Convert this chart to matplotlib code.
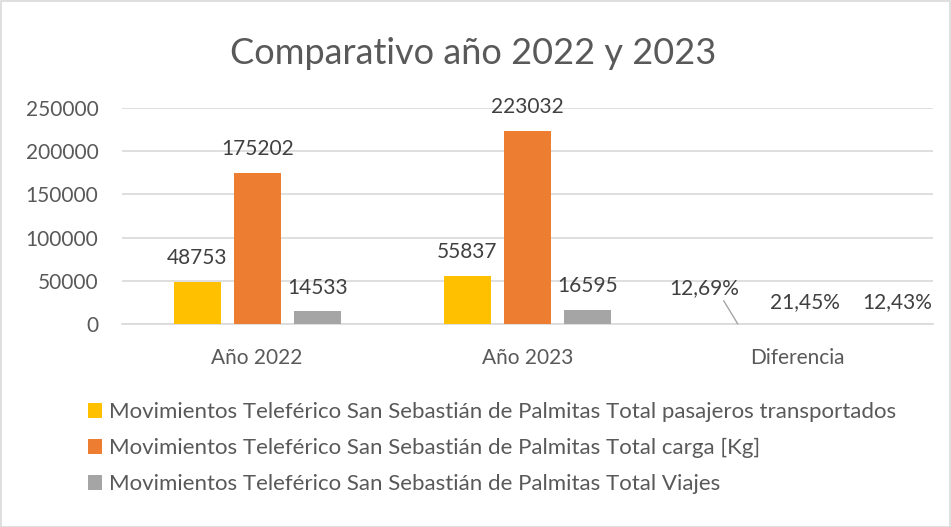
import matplotlib
matplotlib.use("Agg")
import matplotlib.pyplot as plt
from matplotlib.patches import Rectangle
import numpy as np

plt.rcParams['font.family'] = ['Lato', 'DejaVu Sans']

categories = ["Año 2022", "Año 2023", "Diferencia"]
series_names = [
    "Movimientos Teleférico San Sebastián de Palmitas Total pasajeros transportados",
    "Movimientos Teleférico San Sebastián de Palmitas Total carga [Kg]",
    "Movimientos Teleférico San Sebastián de Palmitas Total Viajes",
]
pasajeros = [48753, 55837, 0.1269]
carga = [175202, 223032, 0.2145]
viajes = [14533, 16595, 0.1243]
colors = ["#FFC000", "#ED7D31", "#A5A5A5"]
yticks = [0, 50000, 100000, 150000, 200000, 250000]

W, H = 951, 527
fig = plt.figure(figsize=(W / 100, H / 100), dpi=100)
ax = fig.add_axes([122 / W, 1 - 324 / H, (933 - 122) / W, (324 - 108) / H])

x = np.arange(len(categories))
width = 0.174
offs = [-0.222, 0.0, 0.222]
all_series = [pasajeros, carga, viajes]
text_col = "#404040"
axis_col = "#595959"

for vals, off, col, name in zip(all_series, offs, colors, series_names):
    ax.bar(x + off, vals, width, color=col, label=name, zorder=3)

ax.set_xlim(-0.5, 2.5)
ax.set_ylim(0, 250000)
ax.set_yticks(yticks)
ax.set_yticklabels([str(t) for t in yticks])
ax.set_xticks(x)
ax.set_xticklabels(categories)
ax.grid(axis='y', color="#D9D9D9", linewidth=1.2, zorder=0)
for s in ['top', 'right', 'left']:
    ax.spines[s].set_visible(False)
ax.spines['bottom'].set_color("#D9D9D9")
ax.spines['bottom'].set_linewidth(1.2)
ax.tick_params(axis='both', length=0, labelsize=15, colors=axis_col)
ax.tick_params(axis='y', pad=17)
ax.tick_params(axis='x', pad=17)

# data labels for year bars
for vals, off in zip(all_series, offs):
    for i in range(2):
        ax.annotate(str(vals[i]), xy=(x[i] + off, vals[i]), xytext=(0, 10),
                    textcoords='offset points', ha='center', va='bottom',
                    fontsize=15, color=text_col)

# percentage labels for Diferencia
def pct(v):
    return f"{v * 100:.2f}".replace('.', ',') + "%"

diff_offsets = [(-24, 26), (5, 16), (28, 16)]
for vals, off, (dx, dy), k in zip(all_series, offs, diff_offsets, range(3)):
    xy = (x[2] + off, vals[2])
    if k == 0:
        ax.annotate(pct(vals[2]), xy=xy, xytext=(dx, dy), textcoords='offset points',
                    ha='center', va='center', fontsize=15, color=text_col,
                    arrowprops=dict(arrowstyle='-', color="#A5A5A5", lw=1,
                                    shrinkA=0, shrinkB=0,
                                    relpos=(0.75, 0.0)))
    else:
        ax.annotate(pct(vals[2]), xy=xy, xytext=(dx, dy), textcoords='offset points',
                    ha='center', va='center', fontsize=15, color=text_col)

fig.text(473 / W, 1 - 53 / H, "Comparativo año 2022 y 2023", ha='center', va='center',
         fontsize=26, color=axis_col)

leg = fig.legend(loc='upper left', bbox_to_anchor=(79 / W, 1 - 393 / H), frameon=False,
                 fontsize=16, labelcolor=axis_col, handlelength=0.65, handleheight=0.65,
                 handletextpad=0.3, labelspacing=0.72, borderaxespad=0)

fig.patches.append(Rectangle((0.5 / W, 0.5 / H), 1 - 1.5 / W, 1 - 1.5 / H,
                             transform=fig.transFigure, fill=False,
                             edgecolor="#D9D9D9", linewidth=1.2))

fig.savefig("out.png", dpi=100, facecolor='white')
